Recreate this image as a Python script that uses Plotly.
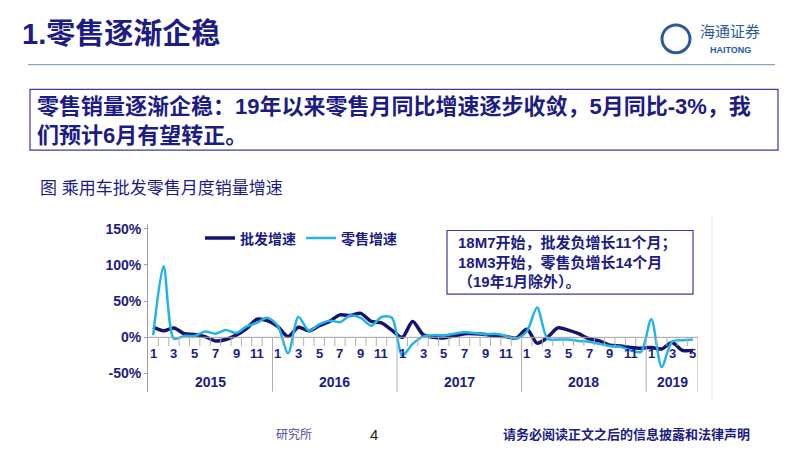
import plotly.graph_objects as go

years = ["2015", "2016", "2017", "2018", "2019"]
months_per_year = [12, 12, 12, 12, 5]
wholesale = [14, 9, 13, 5, 4, 1, -5, -3, 3, 12, 25, 23,
             15, 1, 14, 9, 16, 22, 31, 30, 33, 22, 20, 10,
             0, 22, 4, 0, -1, 2, 5, 5, 4, 2, 1, -1,
             11, -8, 0, 13, 10, 5, -2, -5, -11, -12, -14, -15,
             -14, -16, -7, -18, -18]
retail = [3, 98, -2, 2, 2, 8, 5, 10, 6, 15, 20, 27,
          16, -22, 28, 9, 18, 23, 21, 30, 27, 16, 28, 27,
          -25, -9, 1, 3, 3, 5, 7, 6, 4, 5, 2, -2,
          8, 41, -2, -3, -3, -5, -6, -9, -12, -13, -18, -20,
          25, -41, -6, -4, -3]
y_ticks = [-50, 0, 50, 100, 150]

NAVY = "#1c1c84"
DARK = "#141470"
LIGHT = "#21b4ea"
FONT = "Liberation Sans, Noto Sans CJK SC"
OFF = 8
W, H = 794, 444


def PX(px):
    return (px - OFF) / W


def PY(py):
    return 1 - (py - OFF) / H


month_labels = []
for ny in months_per_year:
    month_labels += [str(m) for m in range(1, ny + 1)]
x = list(range(len(wholesale)))

fig = go.Figure()
fig.add_trace(go.Scatter(x=x, y=wholesale, name="<b>批发增速</b>", mode="lines",
                         line=dict(color=DARK, width=3.5, shape="spline", smoothing=0.8)))
fig.add_trace(go.Scatter(x=x, y=retail, name="<b>零售增速</b>", mode="lines",
                         line=dict(color=LIGHT, width=2.5, shape="spline", smoothing=0.8)))

shapes = []
ann = []
n = len(x)
shapes.append(dict(type="line", xref="x", yref="y", x0=-0.5, x1=n - 0.5, y0=0, y1=0,
                   line=dict(color="#a0a0a0", width=1)))
idx = 0
for yi, ny in enumerate(months_per_year):
    for m in range(ny):
        if m > 0:
            shapes.append(dict(type="line", xref="x", yref="y", x0=idx - 0.5, x1=idx - 0.5,
                               y0=0, y1=-12, line=dict(color="#b0b0b0", width=1)))
        if (m + 1) % 2 == 1:
            ann.append(dict(x=idx, y=-22, xref="x", yref="y", text="<b>" + month_labels[idx] + "</b>",
                            showarrow=False, font=dict(size=13, color=NAVY, family=FONT)))
        idx += 1
    shapes.append(dict(type="line", xref="x", yref="y", x0=idx - 0.5, x1=idx - 0.5,
                       y0=0, y1=-75, line=dict(color="#b0b0b0", width=1)))
    ann.append(dict(x=idx - ny / 2 - 0.5, y=-61, xref="x", yref="y", text="<b>" + years[yi] + "</b>",
                    showarrow=False, font=dict(size=14, color=NAVY, family=FONT)))

shapes += [
    dict(type="line", xref="paper", yref="paper", x0=PX(28), x1=PX(775), y0=PY(62), y1=PY(62),
         line=dict(color="#8fa2c8", width=1.2)),
    dict(type="rect", xref="paper", yref="paper", x0=PX(30), x1=PX(778), y0=PY(148), y1=PY(87),
         line=dict(color="#3a3aa0", width=1.2)),
    dict(type="rect", xref="paper", yref="paper", x0=PX(447), x1=PX(693), y0=PY(293), y1=PY(229),
         line=dict(color="#3a3aa0", width=1.2), fillcolor="white"),
    dict(type="circle", xref="paper", yref="paper", x0=PX(662), x1=PX(690), y0=PY(50), y1=PY(22),
         line=dict(color="#2a5a9a", width=3)),
    dict(type="line", xref="paper", yref="paper", x0=PX(712), x1=PX(712), y0=PY(400), y1=PY(215),
         line=dict(color="#e4e4e4", width=1)),
]
ann += [
    dict(x=PX(20), y=PY(31), xref="paper", yref="paper", xanchor="left", yanchor="middle",
         text="<b>1.零售逐渐企稳</b>", showarrow=False, font=dict(size=29, color=NAVY, family=FONT)),
    dict(x=PX(730), y=PY(29), xref="paper", yref="paper", xanchor="center", yanchor="middle",
         text="海通证券", showarrow=False, font=dict(size=15, color="#2a5a9a", family=FONT)),
    dict(x=PX(730), y=PY(47), xref="paper", yref="paper", xanchor="center", yanchor="middle",
         text="<b>HAITONG</b>", showarrow=False, font=dict(size=9, color="#2a5a9a", family=FONT)),
    dict(x=PX(35), y=PY(119), xref="paper", yref="paper", xanchor="left", yanchor="middle", align="left",
         text="<b>零售销量逐渐企稳：19年以来零售月同比增速逐步收敛，5月同比-3%，我<br>们预计6月有望转正。</b>",
         showarrow=False, font=dict(size=22, color=NAVY, family=FONT)),
    dict(x=PX(38), y=PY(187), xref="paper", yref="paper", xanchor="left", yanchor="middle",
         text="图 乘用车批发零售月度销量增速", showarrow=False, font=dict(size=17, color=NAVY, family=FONT)),
    dict(x=PX(456), y=PY(261), xref="paper", yref="paper", xanchor="left", yanchor="middle", align="left",
         text="<b>18M7开始，批发负增长11个月；<br>18M3开始，零售负增长14个月<br>（19年1月除外）。</b>",
         showarrow=False, font=dict(size=15, color=NAVY, family=FONT)),
    dict(x=PX(314), y=PY(434), xref="paper", yref="paper", xanchor="right", yanchor="middle",
         text="研究所", showarrow=False, font=dict(size=12, color="#4a4a9a", family=FONT)),
    dict(x=PX(374), y=PY(434), xref="paper", yref="paper", xanchor="center", yanchor="middle",
         text="4", showarrow=False, font=dict(size=15, color="#222", family=FONT)),
    dict(x=PX(752), y=PY(434), xref="paper", yref="paper", xanchor="right", yanchor="middle",
         text="<b>请务必阅读正文之后的信息披露和法律声明</b>", showarrow=False,
         font=dict(size=13, color=NAVY, family=FONT)),
]

fig.update_layout(
    width=W, height=H, margin=dict(l=0, r=0, t=0, b=0),
    paper_bgcolor="white", plot_bgcolor="white",
    xaxis=dict(domain=[PX(148), PX(698)], range=[-0.5, n - 0.5], visible=False),
    yaxis=dict(domain=[PY(392), PY(222)], range=[-76, 157], tickvals=y_ticks,
               ticktext=[f"<b>{v}%</b>" for v in y_ticks], showgrid=False, zeroline=False,
               showline=True, linecolor="#a0a0a0", ticks="outside", ticklen=3, tickcolor="#a0a0a0",
               tickfont=dict(size=14, color=NAVY, family=FONT)),
    legend=dict(orientation="h", x=PX(200), y=PY(237), xanchor="left", yanchor="middle",
                font=dict(size=14, color=NAVY, family=FONT), bgcolor="rgba(0,0,0,0)"),
    shapes=shapes, annotations=ann, showlegend=True,
)
fig.write_html("out.html")
